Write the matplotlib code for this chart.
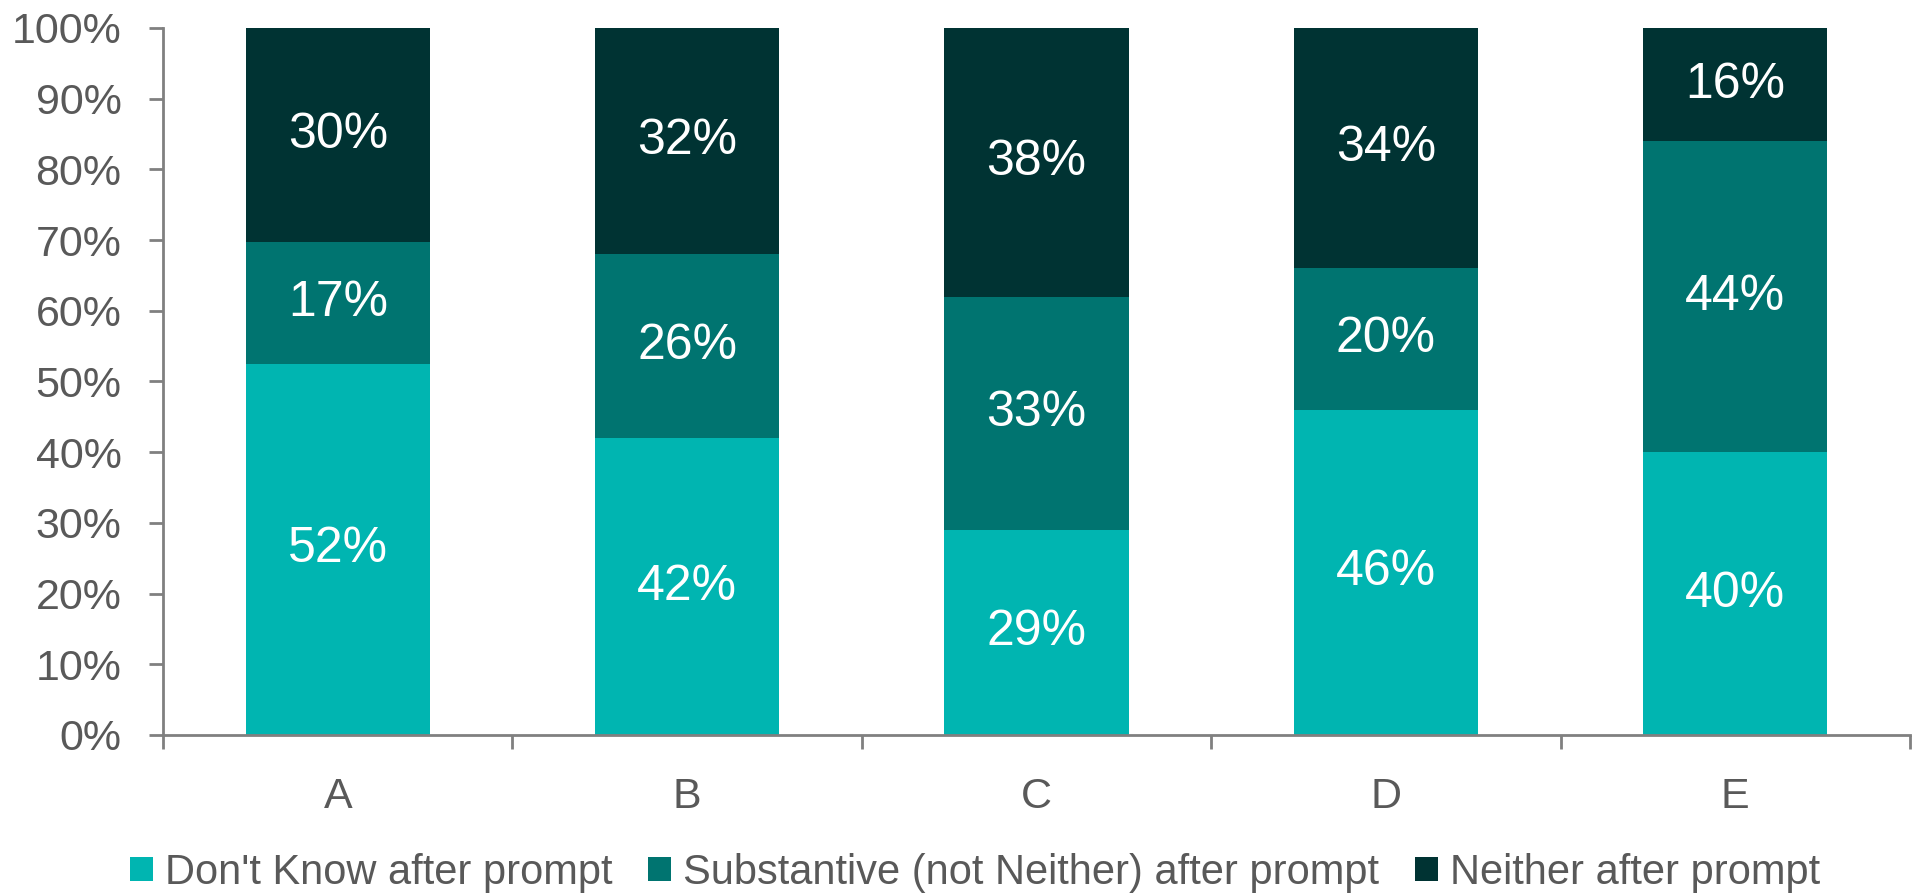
import numpy as np
import matplotlib
matplotlib.use("Agg")
from matplotlib import pyplot as plt
from matplotlib.ticker import PercentFormatter

categories = ["A", "B", "C", "D", "E"]
dont_know = [52, 42, 29, 46, 40]
substantive = [17, 26, 33, 20, 44]
neither = [30, 32, 38, 34, 16]

series_names = ["Don't Know after prompt",
                "Substantive (not Neither) after prompt",
                "Neither after prompt"]
colors = ["#00B5B1", "#007470", "#003333"]

plt.rcParams['font.family'] = ['Liberation Sans', 'DejaVu Sans']

fig = plt.figure(figsize=(19.23, 8.96), dpi=100)
ax = fig.add_axes([0.0848, 0.1797, 0.9084, 0.7891])

data = np.array([dont_know, substantive, neither], dtype=float)
# 100% stacked: normalise each column to its total
shares = data / data.sum(axis=0) * 100

x = np.arange(len(categories))
bottom = np.zeros(len(categories))
for vals, raw, name, col in zip(shares, data, series_names, colors):
    bars = ax.bar(x, vals, bottom=bottom, width=0.527, color=col, label=name)
    for b, r in zip(bars, raw):
        ax.text(b.get_x() + b.get_width() / 2, b.get_y() + b.get_height() / 2,
                "%d%%" % r, ha='center', va='center', color='white', fontsize=36)
    bottom += vals

ax.set_xlim(-0.5, len(categories) - 0.5)
ax.set_ylim(0, 100)
ax.set_yticks(np.arange(0, 101, 10))
ax.yaxis.set_major_formatter(PercentFormatter(decimals=0))
ax.set_xticks(x)
ax.set_xticklabels(categories)
ax.set_xticks(np.arange(-0.5, len(categories)), minor=True)

grey = "#808080"
for s in ['top', 'right']:
    ax.spines[s].set_visible(False)
for s in ['left', 'bottom']:
    ax.spines[s].set_color(grey)
    ax.spines[s].set_linewidth(2)

ax.tick_params(axis='y', colors=grey, labelcolor="#595959", labelsize=31,
               length=10, width=2, pad=20)
ax.tick_params(axis='x', which='major', length=0, labelcolor="#595959",
               labelsize=31, pad=30)
ax.tick_params(axis='x', which='minor', length=10, width=2, color=grey)

ax.legend(loc='center', bbox_to_anchor=(0.507, 0.026), bbox_transform=fig.transFigure,
          ncol=3, frameon=False, fontsize=30, labelcolor="#595959",
          handlelength=0.55, handleheight=0.5, handletextpad=0.3, columnspacing=0.85)

fig.savefig("out.png", dpi=100)
